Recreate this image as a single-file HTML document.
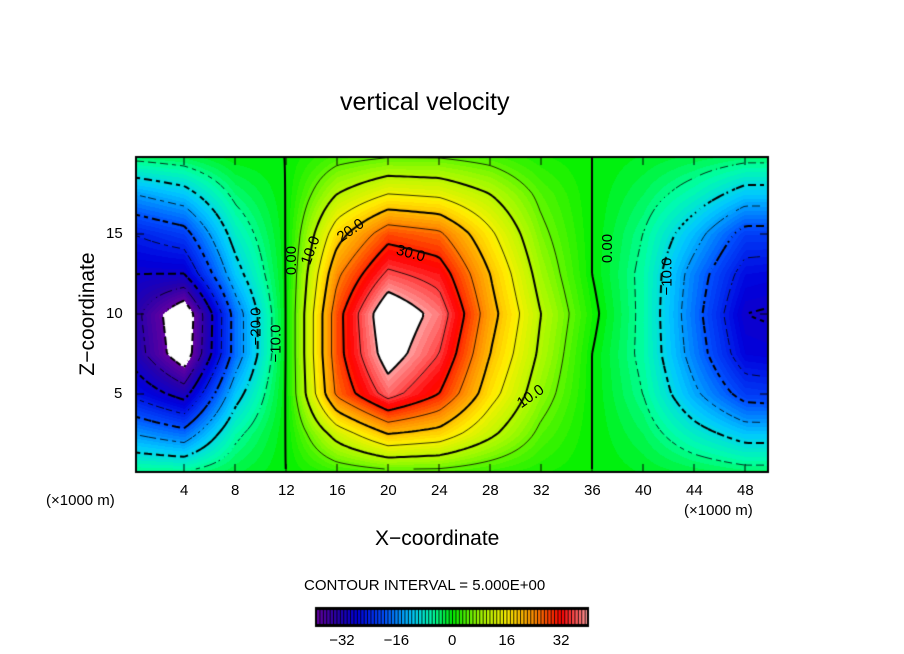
<!DOCTYPE html>
<html><head><meta charset="utf-8"><style>
body{margin:0;background:#fff;width:904px;height:654px;overflow:hidden;font-family:"Liberation Sans",sans-serif;}
#wrap{position:relative;width:904px;height:654px;}
.t{position:absolute;font-size:15px;color:#000;white-space:nowrap;}
</style></head><body><div id="wrap">
<div class="t" style="left:340px;top:88px;font-size:25px;">vertical velocity</div>
<canvas id="c" width="904" height="654" style="position:absolute;left:0;top:0"></canvas>
<div class="t" style="left:375px;top:527px;font-size:21px;">X−coordinate</div>
<div class="t" style="left:-2px;top:302px;font-size:21px;transform:rotate(-90deg);transform-origin:center;width:180px;text-align:center;">Z−coordinate</div>
<div class="t" style="left:46px;top:492px;">(×1000 m)</div>
<div class="t" style="left:684px;top:502px;">(×1000 m)</div>
<div class="t" style="left:304px;top:577px;">CONTOUR INTERVAL = 5.000E+00</div>
<div id="labels"></div>
</div>
<script>
const xs=[0,4,8,12,16,20,24,28,32,36,40,44,48,52];
const zs=[20,17.5,15,12.5,10,7.5,5,2.5,0];
const w=[
[-3,-2,0,0,3,4,4,3,1,0,-1,-2,-3,-3],
[-15,-12,-4,0,10,15,14,10,4,0,-3,-7,-12,-12],
[-25,-22,-8,0,18,28,26,16,6,0,-5,-13,-22,-22],
[-30,-30,-12,0,24,36,33,20,8,0,-6,-17,-27,-28],
[-33,-45,-18,0,28,45,38,22,10,1,-6,-18,-30,-31],
[-32,-44,-18,0,28,43,35,20,9,0,-6,-17,-28,-29],
[-26,-32,-12,0,26,37,30,17,7,0,-5,-14,-22,-23],
[-15,-18,-6,0,12,20,18,11,4,0,-3,-8,-12,-12],
[-4,-4,-2,0,2,3,3,2,1,0,-1,-2,-3,-3]];
const xTicks=[4,8,12,16,20,24,28,32,36,40,44,48];
const zTicks=[5,10,15];
const cbTicks=[-32,-16,0,16,32];
const X0=136,X1=768,Ytop=157,Ybot=472;
const sx=x=>133+x*12.75, sz=z=>474-z*16;
const cv=document.getElementById('c'),ctx=cv.getContext('2d');
const stops=[[-40,[100,0,160]],[-34,[40,0,170]],[-28,[0,0,220]],[-20,[0,80,255]],[-12,[0,200,255]],[-6,[0,255,170]],[0,[0,240,0]],[8,[160,250,0]],[16,[255,240,0]],[24,[255,140,0]],[32,[255,0,0]],[40,[255,160,160]]];
function col(v){v=Math.floor(v)+0.5;for(let i=0;i<stops.length-1;i++){const a=stops[i],b=stops[i+1];if(v<=b[0]){const t=(v-a[0])/(b[0]-a[0]);return a[1].map((c,k)=>Math.round(c+(b[1][k]-c)*t));}}return [255,160,160];}
function val(x,z){let i=0;while(i<xs.length-2&&xs[i+1]<x)i++;let j=0;while(j<zs.length-2&&zs[j+1]>z)j++;
let tx=(x-xs[i])/(xs[i+1]-xs[i]),tz=(zs[j]-z)/(zs[j]-zs[j+1]);
const a=w[j][i],b=w[j][i+1],c=w[j+1][i],d=w[j+1][i+1];return (a*(1-tx)+b*tx)*(1-tz)+(c*(1-tx)+d*tx)*tz;}
const img=ctx.createImageData(X1-X0,Ybot-Ytop);
const F=[];
for(let py=0;py<Ybot-Ytop;py++){F.push([]);for(let px=0;px<X1-X0;px++){const x=(X0+px-133)/12.75,z=(474-(Ytop+py))/16;const v=val(x,z);F[py].push(v);
let c=(v>40||v<-40)?[255,255,255]:col(v);const o=(py*(X1-X0)+px)*4;img.data[o]=c[0];img.data[o+1]=c[1];img.data[o+2]=c[2];img.data[o+3]=255;}}
ctx.putImageData(img,X0,Ytop);
const S=4;
for(let L=-40;L<=40;L+=5){ctx.beginPath();ctx.lineWidth=(L%10==0)?2:0.8;ctx.strokeStyle='#000';
for(let py=0;py+S<F.length;py+=S)for(let px=0;px+S<F[0].length;px+=S){const v=[F[py][px],F[py][px+S],F[py+S][px+S],F[py+S][px]];
const p=[[0,0],[S,0],[S,S],[0,S]];const pts=[];for(let e=0;e<4;e++){const a=v[e]-L,b=v[(e+1)%4]-L;if((a<0)!=(b<0)){const t=a/(a-b);pts.push([p[e][0]+(p[(e+1)%4][0]-p[e][0])*t,p[e][1]+(p[(e+1)%4][1]-p[e][1])*t]);}}
if(pts.length>=2){if(L<0&&((px+py)/S)%3==0)continue;ctx.moveTo(X0+px+pts[0][0],Ytop+py+pts[0][1]);ctx.lineTo(X0+px+pts[1][0],Ytop+py+pts[1][1]);}}
ctx.stroke();}
ctx.lineWidth=2;ctx.strokeRect(X0,Ytop,X1-X0,Ybot-Ytop);
ctx.lineWidth=1;
xTicks.forEach(t=>{const x=sx(t);ctx.beginPath();ctx.moveTo(x,Ybot);ctx.lineTo(x,Ybot-8);ctx.moveTo(x,Ytop);ctx.lineTo(x,Ytop+8);ctx.stroke();});
zTicks.forEach(t=>{const y=sz(t);ctx.beginPath();ctx.moveTo(X0,y);ctx.lineTo(X0+8,y);ctx.moveTo(X1,y);ctx.lineTo(X1-8,y);ctx.stroke();});
const cb0=316,cb1=588,bw=(cb1-cb0)/80;
ctx.fillStyle='#000';ctx.fillRect(cb0,608,cb1-cb0,18);
for(let v=-40;v<40;v+=1){const c=col(v);ctx.fillStyle=`rgb(${c})`;const a=cb0+(v+40)*bw;ctx.fillRect(a+1,610,bw-0.9,14);}
ctx.lineWidth=2;ctx.strokeStyle='#000';ctx.strokeRect(cb0,608,cb1-cb0,18);
const lab=document.getElementById('labels');
function T(txt,x,y,name,extra){const d=document.createElement('div');d.className='t';d.textContent=txt;d.style.left=x+'px';d.style.top=y+'px';if(extra)d.style.cssText+=extra;


lab.appendChild(d);}
xTicks.forEach(t=>T(String(t),sx(t)-(t<10?4:8),482,'x-tick-label'));
zTicks.forEach(t=>T(String(t),t<10?114:106,sz(t)-9,'y-tick-label'));
cbTicks.forEach(t=>T(String(t<0?'−'+(-t):t),cb0+(t+40)/80*(cb1-cb0)-(t<0?14:(t==0?4:8)),632,'colorbar-tick-label'));
T('30.0',396,245,'contour-label','transform:rotate(15deg);');
T('20.0',336,222,'contour-label','transform:rotate(-35deg);');
T('10.0',516,388,'contour-label','transform:rotate(-35deg);');
T('10.0',296,242,'contour-label','transform:rotate(-70deg);');
T('0.00',277,252,'contour-label','transform:rotate(-90deg);');
T('0.00',593,240,'contour-label','transform:rotate(-90deg);');
T('−10.0',648,268,'contour-label','transform:rotate(-90deg);');
T('−10.0',257,335,'contour-label','transform:rotate(-90deg);');
T('−20.0',237,318,'contour-label','transform:rotate(-90deg);');
</script></body></html>
